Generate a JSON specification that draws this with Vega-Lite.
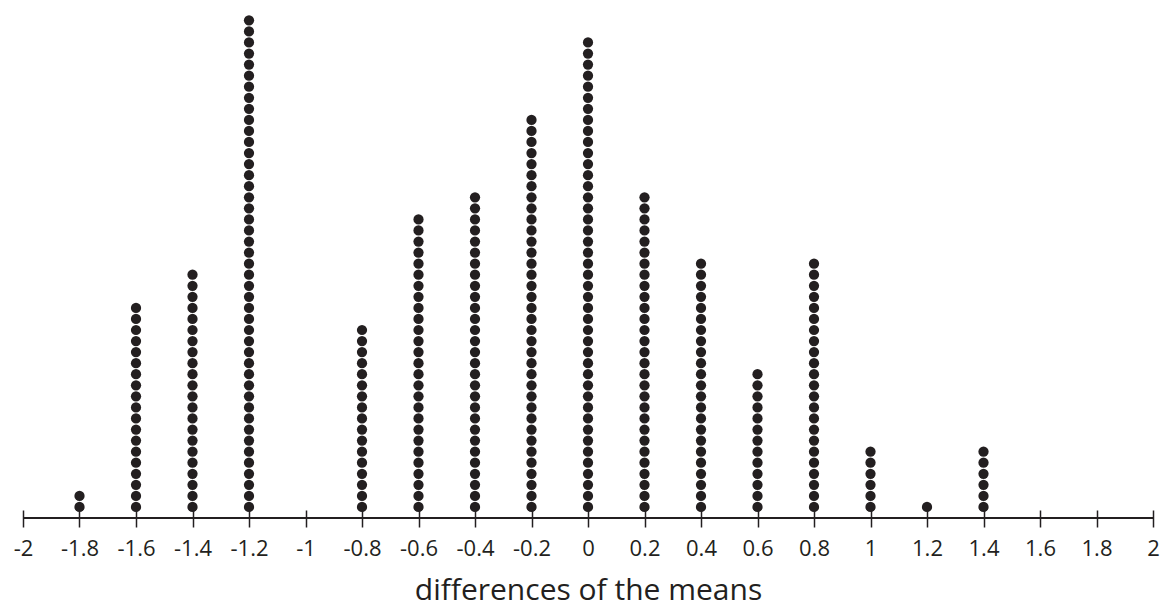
{
  "$schema": "https://vega.github.io/schema/vega-lite/v6.json",
  "width": 1130,
  "height": 518,
  "autosize": {"type": "none"},
  "padding": {"left": 23, "top": 0, "right": 12, "bottom": 87},
  "background": "white",
  "config": {"view": {"stroke": null}, "font": "Open Sans"},
  "data": {"values": [
    {"d":-1.8},{"d":-1.8},
    {"d":-1.6},{"d":-1.6},{"d":-1.6},{"d":-1.6},{"d":-1.6},
    {"d":-1.6},{"d":-1.6},{"d":-1.6},{"d":-1.6},{"d":-1.6},
    {"d":-1.6},{"d":-1.6},{"d":-1.6},{"d":-1.6},{"d":-1.6},
    {"d":-1.6},{"d":-1.6},{"d":-1.6},{"d":-1.6},
    {"d":-1.4},{"d":-1.4},{"d":-1.4},{"d":-1.4},{"d":-1.4},
    {"d":-1.4},{"d":-1.4},{"d":-1.4},{"d":-1.4},{"d":-1.4},
    {"d":-1.4},{"d":-1.4},{"d":-1.4},{"d":-1.4},{"d":-1.4},
    {"d":-1.4},{"d":-1.4},{"d":-1.4},{"d":-1.4},{"d":-1.4},
    {"d":-1.4},{"d":-1.4},
    {"d":-1.2},{"d":-1.2},{"d":-1.2},{"d":-1.2},{"d":-1.2},
    {"d":-1.2},{"d":-1.2},{"d":-1.2},{"d":-1.2},{"d":-1.2},
    {"d":-1.2},{"d":-1.2},{"d":-1.2},{"d":-1.2},{"d":-1.2},
    {"d":-1.2},{"d":-1.2},{"d":-1.2},{"d":-1.2},{"d":-1.2},
    {"d":-1.2},{"d":-1.2},{"d":-1.2},{"d":-1.2},{"d":-1.2},
    {"d":-1.2},{"d":-1.2},{"d":-1.2},{"d":-1.2},{"d":-1.2},
    {"d":-1.2},{"d":-1.2},{"d":-1.2},{"d":-1.2},{"d":-1.2},
    {"d":-1.2},{"d":-1.2},{"d":-1.2},{"d":-1.2},{"d":-1.2},
    {"d":-1.2},{"d":-1.2},{"d":-1.2},{"d":-1.2},{"d":-1.2},
    {"d":-0.8},{"d":-0.8},{"d":-0.8},{"d":-0.8},{"d":-0.8},
    {"d":-0.8},{"d":-0.8},{"d":-0.8},{"d":-0.8},{"d":-0.8},
    {"d":-0.8},{"d":-0.8},{"d":-0.8},{"d":-0.8},{"d":-0.8},
    {"d":-0.8},{"d":-0.8},
    {"d":-0.6},{"d":-0.6},{"d":-0.6},{"d":-0.6},{"d":-0.6},
    {"d":-0.6},{"d":-0.6},{"d":-0.6},{"d":-0.6},{"d":-0.6},
    {"d":-0.6},{"d":-0.6},{"d":-0.6},{"d":-0.6},{"d":-0.6},
    {"d":-0.6},{"d":-0.6},{"d":-0.6},{"d":-0.6},{"d":-0.6},
    {"d":-0.6},{"d":-0.6},{"d":-0.6},{"d":-0.6},{"d":-0.6},
    {"d":-0.6},{"d":-0.6},
    {"d":-0.4},{"d":-0.4},{"d":-0.4},{"d":-0.4},{"d":-0.4},
    {"d":-0.4},{"d":-0.4},{"d":-0.4},{"d":-0.4},{"d":-0.4},
    {"d":-0.4},{"d":-0.4},{"d":-0.4},{"d":-0.4},{"d":-0.4},
    {"d":-0.4},{"d":-0.4},{"d":-0.4},{"d":-0.4},{"d":-0.4},
    {"d":-0.4},{"d":-0.4},{"d":-0.4},{"d":-0.4},{"d":-0.4},
    {"d":-0.4},{"d":-0.4},{"d":-0.4},{"d":-0.4},
    {"d":-0.2},{"d":-0.2},{"d":-0.2},{"d":-0.2},{"d":-0.2},
    {"d":-0.2},{"d":-0.2},{"d":-0.2},{"d":-0.2},{"d":-0.2},
    {"d":-0.2},{"d":-0.2},{"d":-0.2},{"d":-0.2},{"d":-0.2},
    {"d":-0.2},{"d":-0.2},{"d":-0.2},{"d":-0.2},{"d":-0.2},
    {"d":-0.2},{"d":-0.2},{"d":-0.2},{"d":-0.2},{"d":-0.2},
    {"d":-0.2},{"d":-0.2},{"d":-0.2},{"d":-0.2},{"d":-0.2},
    {"d":-0.2},{"d":-0.2},{"d":-0.2},{"d":-0.2},{"d":-0.2},
    {"d":-0.2},
    {"d":0},{"d":0},{"d":0},{"d":0},{"d":0},
    {"d":0},{"d":0},{"d":0},{"d":0},{"d":0},
    {"d":0},{"d":0},{"d":0},{"d":0},{"d":0},
    {"d":0},{"d":0},{"d":0},{"d":0},{"d":0},
    {"d":0},{"d":0},{"d":0},{"d":0},{"d":0},
    {"d":0},{"d":0},{"d":0},{"d":0},{"d":0},
    {"d":0},{"d":0},{"d":0},{"d":0},{"d":0},
    {"d":0},{"d":0},{"d":0},{"d":0},{"d":0},
    {"d":0},{"d":0},{"d":0},
    {"d":0.2},{"d":0.2},{"d":0.2},{"d":0.2},{"d":0.2},
    {"d":0.2},{"d":0.2},{"d":0.2},{"d":0.2},{"d":0.2},
    {"d":0.2},{"d":0.2},{"d":0.2},{"d":0.2},{"d":0.2},
    {"d":0.2},{"d":0.2},{"d":0.2},{"d":0.2},{"d":0.2},
    {"d":0.2},{"d":0.2},{"d":0.2},{"d":0.2},{"d":0.2},
    {"d":0.2},{"d":0.2},{"d":0.2},{"d":0.2},
    {"d":0.4},{"d":0.4},{"d":0.4},{"d":0.4},{"d":0.4},
    {"d":0.4},{"d":0.4},{"d":0.4},{"d":0.4},{"d":0.4},
    {"d":0.4},{"d":0.4},{"d":0.4},{"d":0.4},{"d":0.4},
    {"d":0.4},{"d":0.4},{"d":0.4},{"d":0.4},{"d":0.4},
    {"d":0.4},{"d":0.4},{"d":0.4},
    {"d":0.6},{"d":0.6},{"d":0.6},{"d":0.6},{"d":0.6},
    {"d":0.6},{"d":0.6},{"d":0.6},{"d":0.6},{"d":0.6},
    {"d":0.6},{"d":0.6},{"d":0.6},
    {"d":0.8},{"d":0.8},{"d":0.8},{"d":0.8},{"d":0.8},
    {"d":0.8},{"d":0.8},{"d":0.8},{"d":0.8},{"d":0.8},
    {"d":0.8},{"d":0.8},{"d":0.8},{"d":0.8},{"d":0.8},
    {"d":0.8},{"d":0.8},{"d":0.8},{"d":0.8},{"d":0.8},
    {"d":0.8},{"d":0.8},{"d":0.8},
    {"d":1},{"d":1},{"d":1},{"d":1},{"d":1},{"d":1},
    {"d":1.2},
    {"d":1.4},{"d":1.4},{"d":1.4},{"d":1.4},{"d":1.4},{"d":1.4}
  ]},
  "transform": [
    {"window": [{"op": "row_number", "as": "k"}], "groupby": ["d"]}
  ],
  "encoding": {
    "x": {
      "field": "d",
      "type": "quantitative",
      "scale": {"domain": [-2, 2], "nice": false, "zero": false},
      "axis": {
        "values": [-2, -1.8, -1.6, -1.4, -1.2, -1, -0.8, -0.6, -0.4, -0.2, 0, 0.2, 0.4, 0.6, 0.8, 1, 1.2, 1.4, 1.6, 1.8, 2],
        "labelExpr": "'' + datum.value",
        "domain": false,
        "grid": false,
        "offset": -8,
        "tickSize": 17,
        "tickWidth": 1.5,
        "tickColor": "#231f20",
        "labelFont": "Open Sans",
        "labelFontSize": 22,
        "labelColor": "#231f20",
        "labelPadding": 11,
        "labelFlush": false,
        "labelOverlap": false,
        "title": "differences of the means",
        "titleFont": "Open Sans",
        "titleFontSize": 30,
        "titleFontWeight": "normal",
        "titleColor": "#231f20",
        "titlePadding": 16
      }
    },
    "y": {
      "field": "k",
      "type": "quantitative",
      "scale": {"domain": [0, 46.84], "nice": false, "zero": false},
      "axis": null
    }
  },
  "layer": [
    {
      "mark": {"type": "rule", "color": "#231f20", "strokeWidth": 2},
      "encoding": {"y": {"datum": 0}, "x": {"datum": -2}, "x2": {"datum": 2}}
    },
    {
      "mark": {"type": "point", "filled": true, "size": 105, "color": "#231f20", "opacity": 1, "shape": "circle"}
    }
  ]
}
